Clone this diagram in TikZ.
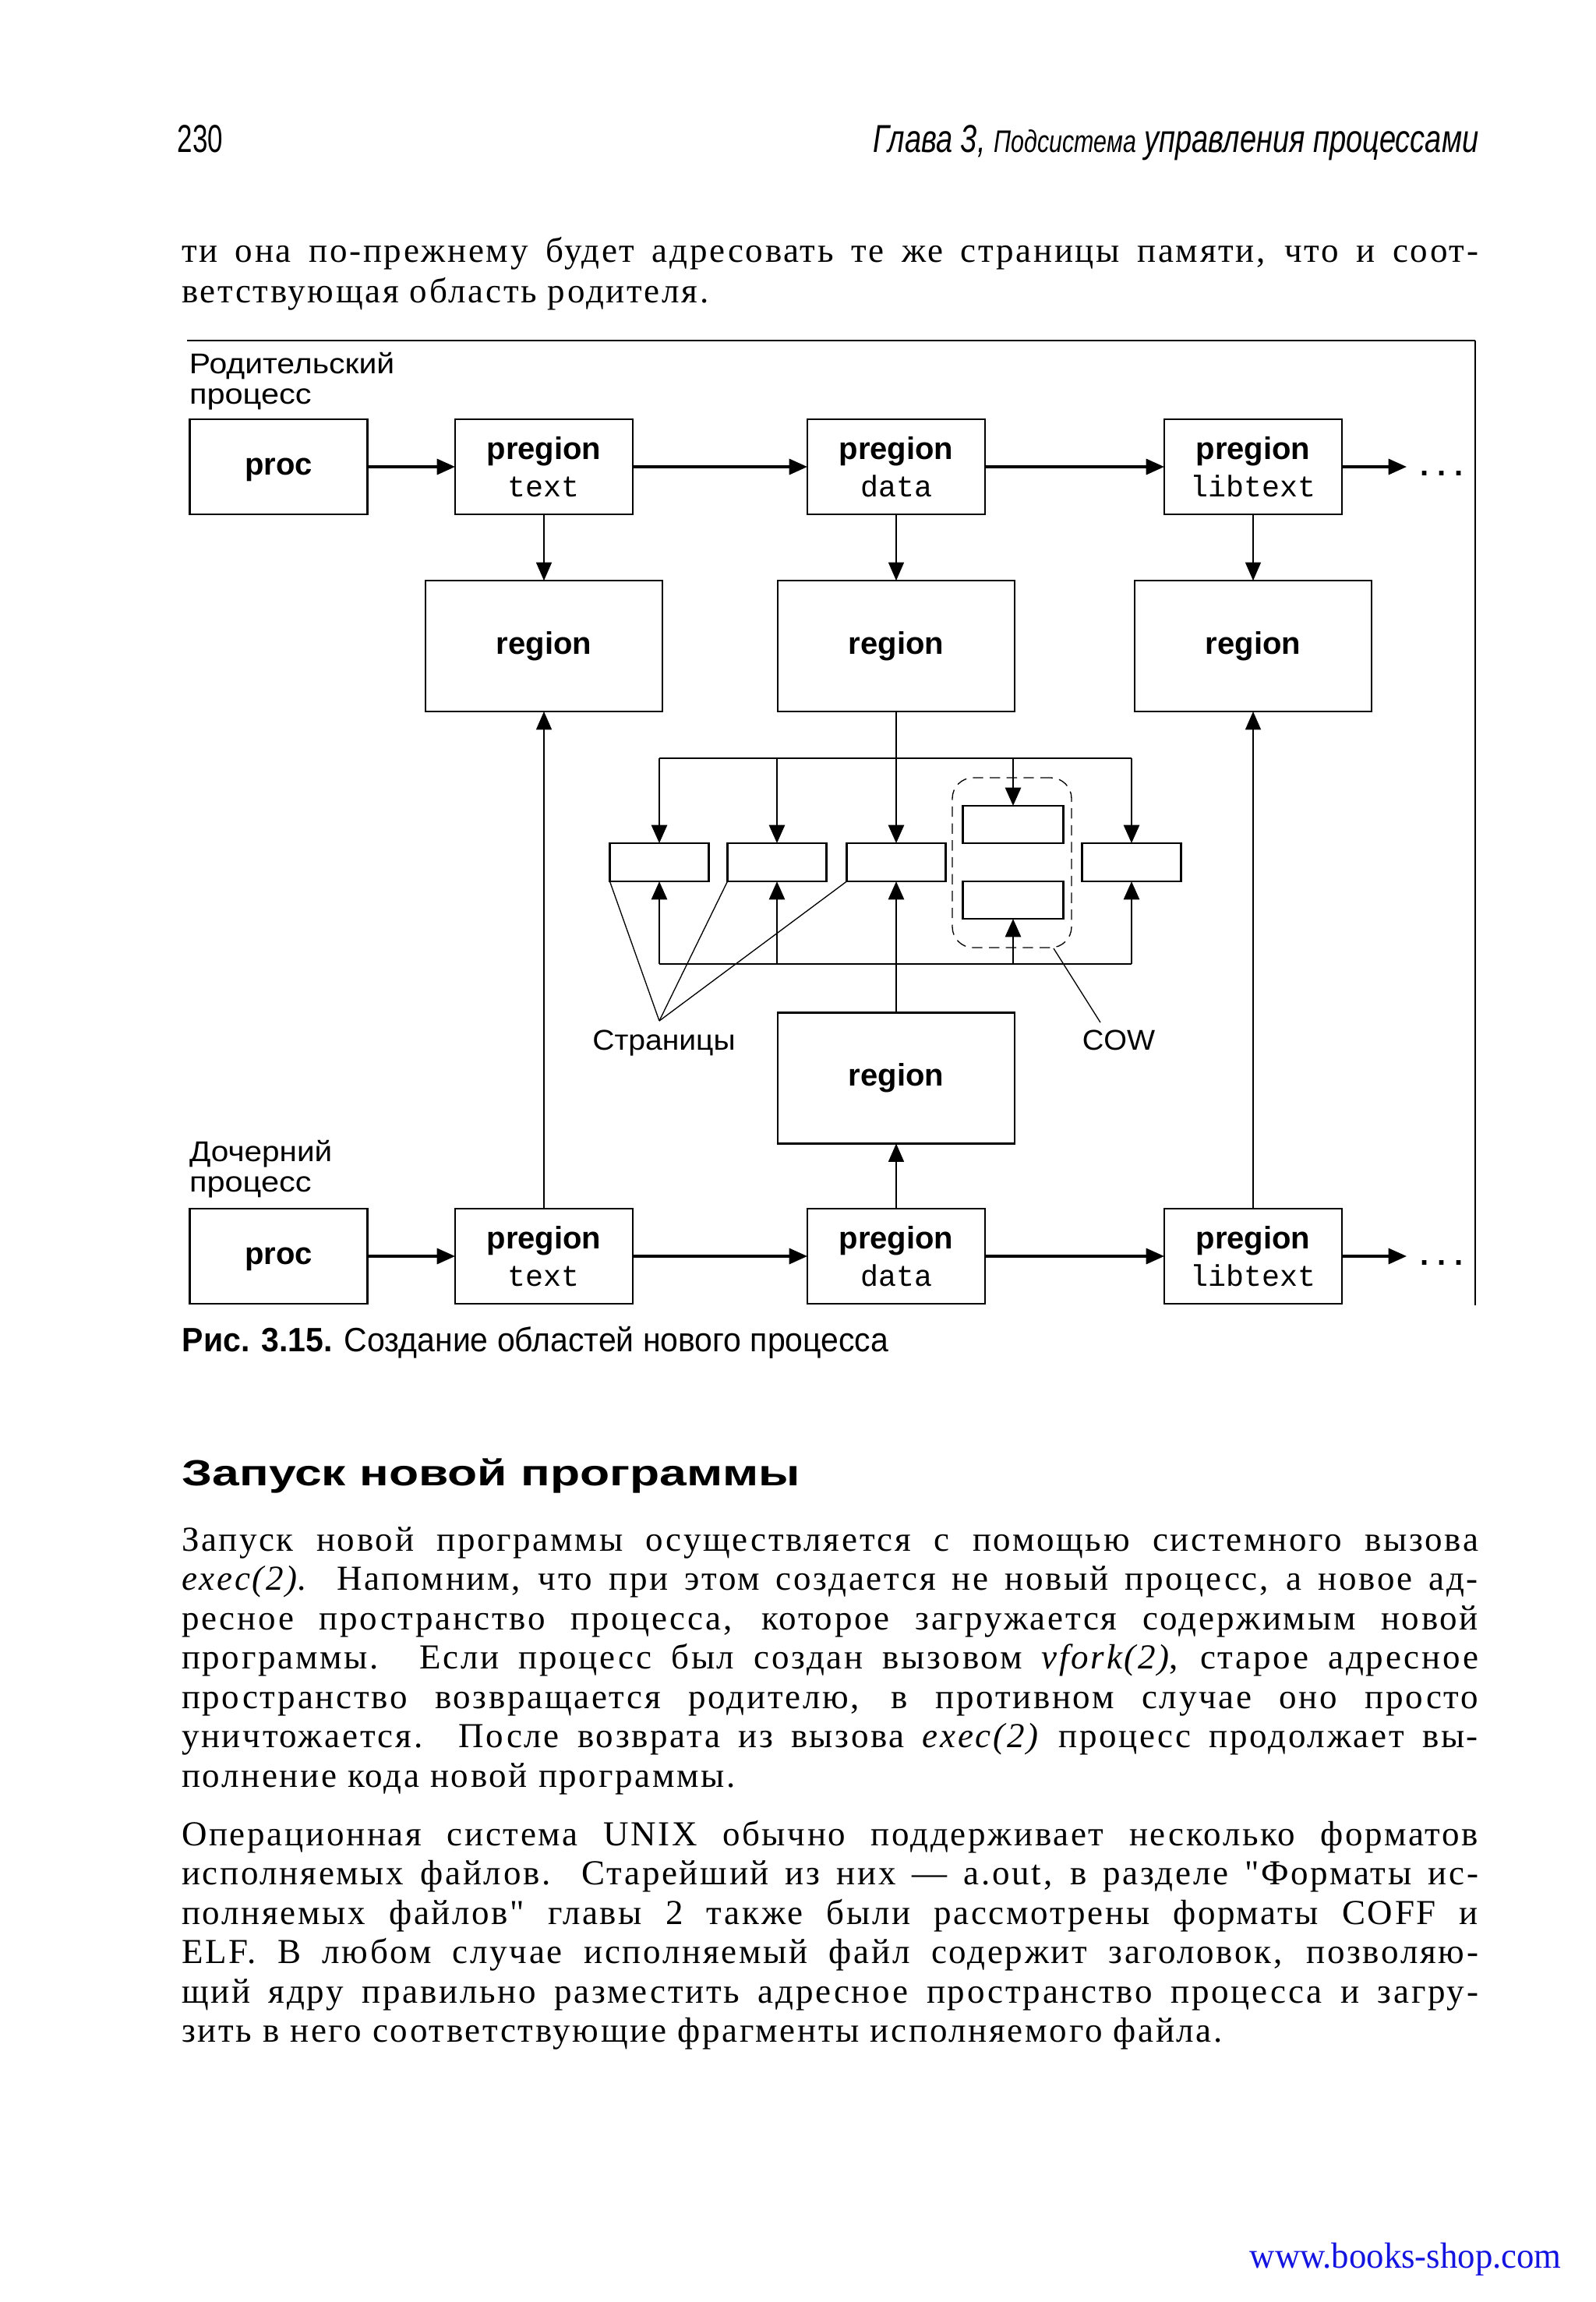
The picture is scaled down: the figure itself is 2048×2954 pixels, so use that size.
\documentclass[tikz,border=0pt]{standalone}
\usepackage{graphicx}
\usepackage{fontspec}
\setmainfont{Liberation Serif}
\setsansfont{Liberation Sans}
\setmonofont{Liberation Mono}
\newfontfamily\bodyfont{Liberation Serif}[LetterSpace=6]
\usetikzlibrary{arrows.meta}
\newcommand{\fitw}[2]{\resizebox{#1}{\height}{#2}}
\definecolor{urlblue}{RGB}{20,20,225}
\tikzset{
 box/.style={draw, line width=0.85pt, inner sep=0pt, outer sep=0pt, minimum width=68.4pt, minimum height=36.6pt, font=\sffamily\bfseries\fontsize{12}{14.4}\selectfont, align=center},
 procbox/.style={box, text depth=0pt},
 regbox/.style={box, minimum width=91.2pt, minimum height=50.4pt},
 pagebox/.style={draw, line width=0.85pt, inner sep=0pt, outer sep=0pt, minimum width=38.1pt, minimum height=14.7pt},
 thickarr/.style={line width=1pt, -{Triangle[length=7pt,width=6pt]}},
 thinarr/.style={line width=0.45pt, -{Triangle[length=7pt,width=6pt]}},
 busarr/.style={line width=0.85pt, -{Triangle[length=7pt,width=6pt]}},
 busline/.style={line width=0.85pt},
 ptr/.style={line width=0.4pt},
 lbl/.style={inner sep=0pt, outer sep=0pt, font=\sffamily\fontsize{11}{13}\selectfont},
 body/.style={inner sep=0pt, outer sep=0pt, anchor=base west, font=\bodyfont\fontsize{13.5}{15}\selectfont},
}
\newcommand{\mt}[1]{{\mdseries\ttfamily\fontsize{11.5}{14}\selectfont #1}}
\newcommand{\jl}[3]{\node[body] (#1) at (233,#2) {\makebox[499.2pt][s]{#3}};}
\newcommand{\nl}[3]{\node[body] (#1) at (233,#2) {#3};}
\begin{document}
\begin{tikzpicture}[x=0.3pt,y=-0.3pt]
\useasboundingbox[fill=white] (0,0) rectangle (2048,2954);

% ---------- header ----------
\node[anchor=base west, inner sep=0pt] (pgnum) at (227,195) {\fitw{17.5pt}{\sffamily\fontsize{15}{17}\selectfont 230}};
\node[anchor=base east, inner sep=0pt] (hdr) at (1898,195) {\fitw{233pt}{\sffamily\itshape\fontsize{15}{17}\selectfont Глава 3, {\fontsize{12}{14}\selectfont Подсистема} управления процессами}};

% ---------- first paragraph ----------
\jl{a1}{336}{ти она по-прежнему будет адресовать те же страницы памяти, что и соот-}
\nl{a2}{388}{ветствующая область родителя.}

% ---------- frame ----------
\coordinate (fTL) at (240,437);
\coordinate (fTR) at (1893,437);
\coordinate (fBR) at (1893,1675);
\draw[line width=0.8pt] (fTL) -- (fTR);
\draw[line width=0.5pt] (fTR) -- (fBR);

% ---------- labels ----------
\node[lbl, anchor=base west] (par1) at (243,479) {\fitw{79pt}{Родительский}};
\node[lbl, anchor=base west] (par2) at (243,518) {\fitw{47pt}{процесс}};
\node[lbl, anchor=base west] (ch1) at (243,1490) {\fitw{55pt}{Дочерний}};
\node[lbl, anchor=base west] (ch2) at (243,1529) {\fitw{47pt}{процесс}};

% ---------- top row ----------
\node[procbox] (proc1) at (357.5,599) {proc};
\node[box] (pt1) at (698,599) {pregion\\\mt{text}};
\node[box] (pd1) at (1150,599) {pregion\\\mt{data}};
\node[box] (pl1) at (1608,599) {pregion\\\mt{libtext}};
\coordinate (e1) at (1805,599);
\node[anchor=base west, inner sep=0pt, font=\sffamily\bfseries\fontsize{12}{12}\selectfont] (dots1) at (1822,610) {.\hspace{3.2pt}.\hspace{3.2pt}.};
\draw[thickarr] (proc1) -- (pt1);
\draw[thickarr] (pt1) -- (pd1);
\draw[thickarr] (pd1) -- (pl1);
\draw[thickarr] (pl1) -- (e1);

% ---------- regions ----------
\node[regbox] (r1) at (698,829) {region};
\node[regbox] (r2) at (1150,829) {region};
\node[regbox] (r3) at (1608,829) {region};
\draw[thinarr] (pt1) -- (r1);
\draw[thinarr] (pd1) -- (r2);
\draw[thinarr] (pl1) -- (r3);

% ---------- pages ----------
\node[pagebox] (pg1) at (846,1106.5) {};
\node[pagebox] (pg2) at (997,1106.5) {};
\node[pagebox] (pg3) at (1150,1106.5) {};
\node[pagebox] (pg5) at (1452,1106.5) {};
\node[pagebox, minimum width=38.7pt, minimum height=14.4pt] (cowt) at (1300,1058) {};
\node[pagebox, minimum width=38.7pt, minimum height=14.4pt] (cowb) at (1300,1155) {};
\node[draw, line width=0.4pt, dash pattern=on 4pt off 2.5pt, rounded corners=8pt, minimum width=45.9pt, minimum height=65.4pt, inner sep=0pt] (cowgrp) at (1298.5,1107) {};

% top bus
\coordinate (tb1) at (846,973);
\coordinate (tb2) at (997,973);
\coordinate (tb4) at (1300,973);
\coordinate (tb5) at (1452,973);
\draw[busline] (tb1) -- (tb5);
\draw[busarr] (tb1) -- (pg1.north);
\draw[busarr] (tb2) -- (pg2.north);
\draw[busarr] (tb4) -- (cowt.north);
\draw[busarr] (tb5) -- (pg5.north);
\draw[busarr] (r2.south) -- (pg3.north);

% bottom bus
\coordinate (bb1) at (846,1237);
\coordinate (bb2) at (997,1237);
\coordinate (bb4) at (1300,1237);
\coordinate (bb5) at (1452,1237);
\draw[busline] (bb1) -- (bb5);
\draw[busarr] (bb1) -- (pg1.south);
\draw[busarr] (bb2) -- (pg2.south);
\draw[busarr] (bb4) -- (cowb.south);
\draw[busarr] (bb5) -- (pg5.south);

% child region
\node[regbox] (r4) at (1150,1383.5) {region};
\draw[busarr] (r4.north) -- (pg3.south);

% pointer labels
\node[lbl, anchor=base] (pages) at (852,1347) {\fitw{55pt}{Страницы}};
\coordinate (apex) at (846,1310);
\draw[ptr] (apex) -- (pg1.south west);
\draw[ptr] (apex) -- (pg2.south west);
\draw[ptr] (apex) -- (pg3.south west);
\node[lbl, anchor=base] (cow) at (1435.5,1347) {\fitw{28pt}{COW}};
\coordinate (cowtip) at (1412,1312);
\coordinate (cowend) at (1352,1217);
\draw[ptr] (cowtip) -- (cowend);

% ---------- bottom row ----------
\node[procbox] (proc2) at (357.5,1612) {proc};
\node[box] (pt2) at (698,1612) {pregion\\\mt{text}};
\node[box] (pd2) at (1150,1612) {pregion\\\mt{data}};
\node[box] (pl2) at (1608,1612) {pregion\\\mt{libtext}};
\coordinate (e2) at (1805,1612);
\node[anchor=base west, inner sep=0pt, font=\sffamily\bfseries\fontsize{12}{12}\selectfont] (dots2) at (1822,1623) {.\hspace{3.2pt}.\hspace{3.2pt}.};
\draw[thickarr] (proc2) -- (pt2);
\draw[thickarr] (pt2) -- (pd2);
\draw[thickarr] (pd2) -- (pl2);
\draw[thickarr] (pl2) -- (e2);
\draw[thinarr] (pt2) -- (r1);
\draw[thinarr] (pd2) -- (r4);
\draw[thinarr] (pl2) -- (r3);

% ---------- caption ----------
\node[anchor=base west, inner sep=0pt] (cap) at (233,1734) {\fitw{272pt}{\sffamily\fontsize{13}{15}\selectfont\textbf{Рис. 3.15.} Создание областей нового процесса}};

% ---------- section heading ----------
\node[anchor=base west, inner sep=0pt] (sec) at (233,1906) {\fitw{238pt}{\sffamily\bfseries\fontsize{14}{16}\selectfont Запуск новой программы}};

% ---------- paragraph 2 ----------
\jl{b1}{1990}{Запуск новой программы осуществляется с помощью системного вызова}
\jl{b2}{2040.5}{\textit{exec(2)}. Напомним, что при этом создается не новый процесс, а новое ад-}
\jl{b3}{2091}{ресное пространство процесса, которое загружается содержимым новой}
\jl{b4}{2141.5}{программы. Если процесс был создан вызовом \textit{vfork(2)}, старое адресное}
\jl{b5}{2192}{пространство возвращается родителю, в противном случае оно просто}
\jl{b6}{2242.5}{уничтожается. После возврата из вызова \textit{exec(2)} процесс продолжает вы-}
\nl{b7}{2293}{полнение кода новой программы.}

% ---------- paragraph 3 ----------
\jl{c1}{2368}{Операционная система UNIX обычно поддерживает несколько форматов}
\jl{c2}{2418.5}{исполняемых файлов. Старейший из них — a.out, в разделе "Форматы ис-}
\jl{c3}{2469}{полняемых файлов" главы 2 также были рассмотрены форматы COFF и}
\jl{c4}{2519.5}{ELF. В любом случае исполняемый файл содержит заголовок, позволяю-}
\jl{c5}{2570}{щий ядру правильно разместить адресное пространство процесса и загру-}
\nl{c6}{2620.5}{зить в него соответствующие фрагменты исполняемого файла.}

% ---------- footer ----------
\node[anchor=base west, inner sep=0pt] (url) at (1603,2910) {\fitw{120pt}{\color{urlblue}\fontsize{14}{16}\selectfont www.books-shop.com}};
\end{tikzpicture}
\end{document}
